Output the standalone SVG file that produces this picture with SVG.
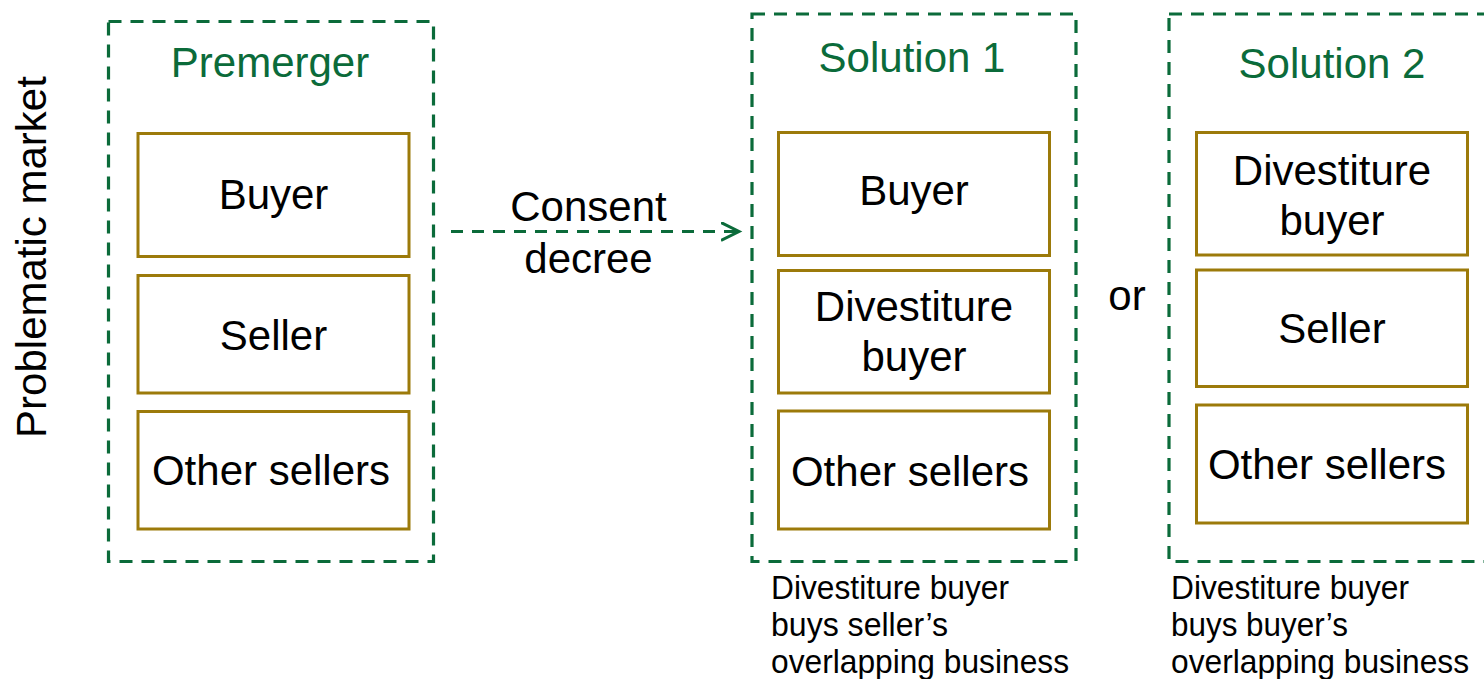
<svg xmlns="http://www.w3.org/2000/svg" width="1484" height="679" viewBox="0 0 1484 679">
<style>
.grp{fill:none;stroke:#0B6B3A;stroke-width:3.2;stroke-dasharray:13 9}
.box{fill:#fff;stroke:#9C7A0A;stroke-width:3}
.t{font-family:"Liberation Sans",Arial,sans-serif;font-size:42px;fill:#000;text-anchor:middle}
.title{fill:#0B6B3A}
.note{font-family:"Liberation Sans",Arial,sans-serif;font-size:33px;fill:#000}
.conn{fill:none;stroke:#0B6B3A;stroke-width:3;stroke-dasharray:12 9}
</style>
<defs>
<marker id="arr" markerWidth="24" markerHeight="24" refX="18" refY="10" orient="auto" markerUnits="userSpaceOnUse">
<path d="M0,1 L18,10 L0,19" fill="none" stroke="#0B6B3A" stroke-width="3"/>
</marker>
</defs>
<rect width="1484" height="679" fill="#fff"/>
<text class="t" transform="translate(46,257) rotate(-90)">Problematic market</text>

<g id="premerger">
<rect class="grp" x="108.5" y="21.5" width="325" height="540"/>
<text class="t title" x="270" y="77">Premerger</text>
<g id="pm-buyer"><rect class="box" x="138" y="133.5" width="271" height="123"/><text class="t" x="273.5" y="209">Buyer</text></g>
<g id="pm-seller"><rect class="box" x="138" y="275.5" width="271" height="117.5"/><text class="t" x="273.5" y="350">Seller</text></g>
<g id="pm-other"><rect class="box" x="138" y="411.5" width="271" height="117.5"/><text class="t" x="271" y="485">Other sellers</text></g>
</g>

<g id="solution1">
<rect class="grp" x="752" y="14" width="324" height="547.5"/>
<text class="t title" x="912" y="72">Solution 1</text>
<g id="s1-buyer"><rect class="box" x="778.5" y="132.5" width="271" height="123"/><text class="t" x="914" y="205">Buyer</text></g>
<g id="s1-div"><rect class="box" x="778.5" y="270.5" width="271" height="122.5"/><text class="t" x="914" y="321">Divestiture</text><text class="t" x="914" y="371">buyer</text></g>
<g id="s1-other"><rect class="box" x="778.5" y="411" width="271" height="118"/><text class="t" x="910" y="486">Other sellers</text></g>
<text class="note" x="771" y="599" textLength="238" lengthAdjust="spacingAndGlyphs">Divestiture buyer</text>
<text class="note" x="771" y="636" textLength="177" lengthAdjust="spacingAndGlyphs">buys seller’s</text>
<text class="note" x="771" y="673" textLength="298" lengthAdjust="spacingAndGlyphs">overlapping business</text>
</g>

<text class="t" x="1127" y="310">or</text>

<g id="solution2">
<rect class="grp" x="1169" y="14" width="330" height="547.5"/>
<text class="t title" x="1332" y="78">Solution 2</text>
<g id="s2-div"><rect class="box" x="1196.5" y="132.5" width="271" height="122.5"/><text class="t" x="1332" y="185">Divestiture</text><text class="t" x="1332" y="235">buyer</text></g>
<g id="s2-seller"><rect class="box" x="1196.5" y="270" width="271" height="116.5"/><text class="t" x="1332" y="343">Seller</text></g>
<g id="s2-other"><rect class="box" x="1196.5" y="405" width="271" height="118"/><text class="t" x="1327" y="479">Other sellers</text></g>
<text class="note" x="1171" y="599" textLength="238" lengthAdjust="spacingAndGlyphs">Divestiture buyer</text>
<text class="note" x="1171" y="636" textLength="177" lengthAdjust="spacingAndGlyphs">buys buyer’s</text>
<text class="note" x="1171" y="673" textLength="298" lengthAdjust="spacingAndGlyphs">overlapping business</text>
</g>

<g id="connectors">
<line class="conn" x1="451" y1="231.5" x2="739" y2="231.5" marker-end="url(#arr)"/>
<text class="t" x="588.5" y="221">Consent</text>
<text class="t" x="588.5" y="273">decree</text>
</g>
</svg>
